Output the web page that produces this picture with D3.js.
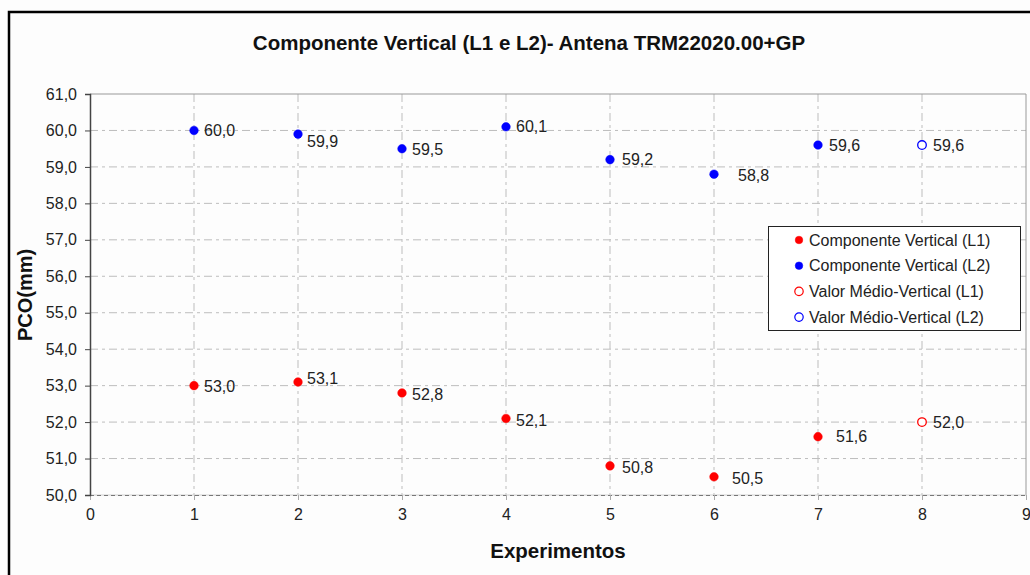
<!DOCTYPE html>
<html><head><meta charset="utf-8">
<script src="https://cdn.jsdelivr.net/npm/d3@7/dist/d3.min.js"></script>
<style>
html,body{margin:0;padding:0;background:#fff;}
svg{display:block;font-family:"Liberation Sans",Arial,sans-serif;}
</style></head>
<body><svg id="chart" width="1030" height="575"></svg>
<script>
// Data
const experiments = [1, 2, 3, 4, 5, 6, 7];
const l1Values = [53.0, 53.1, 52.8, 52.1, 50.8, 50.5, 51.6];
const l2Values = [60.0, 59.9, 59.5, 60.1, 59.2, 58.8, 59.6];
const meanX = [8];
const meanL1 = [52.0];
const meanL2 = [59.6];
const xTicks = [0, 1, 2, 3, 4, 5, 6, 7, 8, 9];
const yTicks = [50, 51, 52, 53, 54, 55, 56, 57, 58, 59, 60, 61];
const seriesNames = ["Componente Vertical (L1)", "Componente Vertical (L2)", "Valor Médio-Vertical (L1)", "Valor Médio-Vertical (L2)"];
const titleText = "Componente Vertical (L1 e L2)- Antena TRM22020.00+GP";

// label placement tweaks (pixels)
const l1LabelDx = [10, 9, 10, 10, 12, 18, 18];
const l1LabelDy = [1, -4, 1, 2, 2, 2, 0];
const l2LabelDx = [10, 9, 10, 10, 12, 24, 11];
const l2LabelDy = [0, 7, 1, 0, 0, 1, 0];

const svg = d3.select("#chart");
const fmt = v => d3.format(".1f")(v).replace(".", ",");
const FONT = "Liberation Sans, Arial, sans-serif";

const margin = {left: 90, right: 1026, top: 94, bottom: 495};
const x = d3.scaleLinear().domain([0, 9]).range([margin.left, margin.right]);
const y = d3.scaleLinear().domain([50, 61]).range([margin.bottom, margin.top]);

// outer frame
svg.append("rect").attr("x", 0).attr("y", 0).attr("width", 1030).attr("height", 575).attr("fill", "#fdfdfd");
svg.append("rect").attr("x", 9).attr("y", 12).attr("width", 1060).attr("height", 620)
  .attr("fill", "none").attr("stroke", "#000").attr("stroke-width", 2.5);

// title
svg.append("text").attr("x", 529).attr("y", 50).attr("text-anchor", "middle")
  .attr("font-size", 20.5).attr("font-weight", "bold").attr("fill", "#111").text(titleText);

// grid
const gridDash = "8,4,3,4";
svg.append("g").selectAll("line").data(yTicks.filter(d => d > 50 && d < 61)).join("line")
  .attr("x1", margin.left).attr("x2", margin.right)
  .attr("y1", d => y(d)).attr("y2", d => y(d))
  .attr("stroke", "#bdbdbd").attr("stroke-dasharray", gridDash);
svg.append("g").selectAll("line").data(xTicks.filter(d => d > 0 && d < 9)).join("line")
  .attr("x1", d => x(d)).attr("x2", d => x(d))
  .attr("y1", margin.top).attr("y2", margin.bottom)
  .attr("stroke", "#bdbdbd").attr("stroke-dasharray", gridDash);

// plot border top & right
svg.append("line").attr("x1", margin.left).attr("x2", margin.right).attr("y1", margin.top).attr("y2", margin.top)
  .attr("stroke", "#999");
svg.append("line").attr("x1", margin.right).attr("x2", margin.right).attr("y1", margin.top).attr("y2", margin.bottom)
  .attr("stroke", "#999");

// bottom axis
svg.append("line").attr("x1", margin.left).attr("x2", margin.right).attr("y1", margin.bottom).attr("y2", margin.bottom)
  .attr("stroke", "#d0d0d0").attr("stroke-width", 1);
svg.append("line").attr("x1", margin.left).attr("x2", margin.right).attr("y1", margin.bottom + 0.5).attr("y2", margin.bottom + 0.5)
  .attr("stroke", "#777").attr("stroke-dasharray", "4,3");
const xAxis = d3.axisBottom(x).tickValues(xTicks).tickFormat(d3.format("d")).tickSize(5).tickPadding(9);
const gx = svg.append("g").attr("transform", `translate(0,${margin.bottom})`).call(xAxis);
gx.select(".domain").remove();
gx.selectAll(".tick line").attr("stroke", "#aaa");
gx.selectAll(".tick text").attr("font-size", 16).attr("fill", "#222").attr("font-family", FONT);

// left axis
const yAxis = d3.axisLeft(y).tickValues(yTicks).tickFormat(fmt).tickSize(5).tickPadding(8);
const gy = svg.append("g").attr("transform", `translate(${margin.left},0)`).call(yAxis);
gy.select(".domain").attr("stroke", "#444").attr("stroke-width", 1.5);
gy.selectAll(".tick line").attr("stroke", "#444");
gy.selectAll(".tick text").attr("font-size", 16).attr("fill", "#222").attr("font-family", FONT);

// axis titles
svg.append("text").attr("x", 558).attr("y", 558).attr("text-anchor", "middle")
  .attr("font-size", 20.5).attr("font-weight", "bold").attr("fill", "#111").text("Experimentos");
svg.append("text").attr("transform", "translate(32,295) rotate(-90)").attr("text-anchor", "middle")
  .attr("font-size", 20).attr("font-weight", "bold").attr("fill", "#111").text("PCO(mm)");

// points
function drawSeries(xs, ys, color, filled, dxs, dys) {
  const g = svg.append("g");
  g.selectAll("circle").data(ys).join("circle")
    .attr("cx", (d, i) => x(xs[i])).attr("cy", d => y(d))
    .attr("r", 4.3)
    .attr("fill", filled ? color : "#fff")
    .attr("stroke", color).attr("stroke-width", filled ? 0.5 : 1.3);
  g.selectAll("text").data(ys).join("text")
    .attr("x", (d, i) => x(xs[i]) + dxs[i]).attr("y", (d, i) => y(d) + dys[i])
    .attr("dy", "0.35em").attr("font-size", 16).attr("fill", "#222").text(d => fmt(d));
}
drawSeries(experiments, l1Values, "#ff0000", true, l1LabelDx, l1LabelDy);
drawSeries(experiments, l2Values, "#0000ff", true, l2LabelDx, l2LabelDy);
drawSeries(meanX, meanL1, "#ff0000", false, [11], [0]);
drawSeries(meanX, meanL2, "#0000ff", false, [11], [0]);

// legend
const legend = svg.append("g");
legend.append("rect").attr("x", 768.5).attr("y", 226.5).attr("width", 252).attr("height", 104)
  .attr("fill", "#fff").attr("stroke", "#222");
const legendColors = ["#ff0000", "#0000ff", "#ff0000", "#0000ff"];
const legendFilled = [true, true, false, false];
const rows = legend.selectAll("g").data(seriesNames).join("g")
  .attr("transform", (d, i) => `translate(0,${240 + i * 25.7})`);
rows.append("circle").attr("cx", 799).attr("cy", 0).attr("r", (d, i) => legendFilled[i] ? 3.8 : 4.2)
  .attr("fill", (d, i) => legendFilled[i] ? legendColors[i] : "#fff")
  .attr("stroke", (d, i) => legendColors[i]).attr("stroke-width", (d, i) => legendFilled[i] ? 0.5 : 1.2);
rows.append("text").attr("x", 809).attr("y", 0).attr("dy", "0.35em")
  .attr("font-size", 16).attr("fill", "#222").text(d => d);
</script></body></html>
